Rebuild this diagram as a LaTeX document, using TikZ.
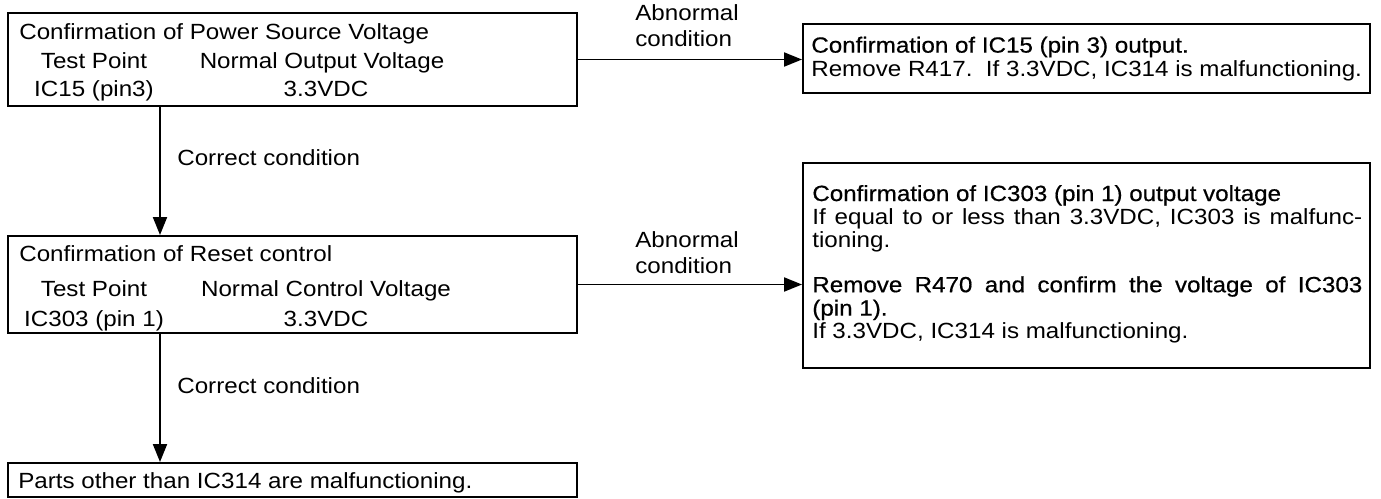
\documentclass[tikz,border=0pt]{standalone}
\usepackage{fontspec}
\setmainfont[FakeStretch=1.1]{Liberation Sans}
\newfontfamily\headfont[FakeStretch=1.1, FakeBold=0.6]{Liberation Sans}
\usetikzlibrary{arrows.meta, fit, positioning}

\tikzset{
  box/.style={draw, line width=1.1pt, inner sep=0pt},
  arr/.style={line width=1.1pt, -{Triangle[length=3.6mm, width=2.8mm]}},
  txt/.style={inner sep=0pt, anchor=base west, font=\fontsize{12.5}{13.3}\selectfont},
  col/.style={txt, anchor=base},
  cond/.style={txt, align=left, font=\fontsize{12.5}{14.5}\selectfont},
}

\begin{document}
\begin{tikzpicture}[x=0.2mm, y=-0.2mm]
\useasboundingbox (0,0) rectangle (1381,498);

% Boxes, left column
\node[box, fit={(8,13) (577,106)}] (power) {};
\node[box, fit={(8,236) (577,333)}] (reset) {};
\node[box, fit={(8,463) (577,497)}] (parts) {};

% Boxes, right column
\node[box, fit={(803,24) (1370,93)}] (ic15) {};
\node[box, fit={(803,163) (1370,368)}] (ic303) {};

% Power source box text
\node[txt] (powertitle) at (19,39) {Confirmation of Power Source Voltage};
\node[col] (powertp) at (94,68) {Test Point};
\node[col] (powernov) at (322,68) {Normal Output Voltage};
\node[col] (powerpin) at (94,96) {IC15 (pin3)};
\node[col] (powerv) at (326,96) {3.3VDC};

% Reset box text
\node[txt] (resettitle) at (19,261) {Confirmation of Reset control};
\node[col] (resettp) at (94,296) {Test Point};
\node[col] (resetncv) at (326,296) {Normal Control Voltage};
\node[col] (resetpin) at (94,326) {IC303 (pin 1)};
\node[col] (resetv) at (326,326) {3.3VDC};

% Right column text
\node[txt, align=left] (ic15text) at (811,76)
  {{\headfont Confirmation of IC15 (pin 3) output.}\\Remove R417.\ \ If 3.3VDC, IC314 is malfunctioning.};
\node[txt, text width=110mm, align=justify] (ic303text) at (812,201)
  {{\headfont Confirmation of IC303 (pin 1) output voltage}\\
   If equal to or less than 3.3VDC, IC303 is malfunc-\linebreak
   tioning.\\[12pt]
   {\headfont Remove R470 and confirm the voltage of IC303\linebreak
   (pin 1).}\\
   If 3.3VDC, IC314 is malfunctioning.};

\node[txt] (partstext) at (18,488) {Parts other than IC314 are malfunctioning.};

% Connectors
\coordinate (down) at (160,0);
\draw[arr] (power.east) -- (ic15.west |- power.east);
\draw[arr] (reset.east) -- (ic303.west |- reset.east);
\draw[arr] (power.south -| down) -- (reset.north -| down);
\draw[arr] (reset.south -| down) -- (parts.north -| down);

% Labels
\node[cond] (abn1) at (635,46) {Abnormal\\condition};
\node[cond] (abn2) at (635,273) {Abnormal\\condition};
\node[txt] (ok1) at (177,165) {Correct condition};
\node[txt] (ok2) at (177,393) {Correct condition};

\end{tikzpicture}
\end{document}
